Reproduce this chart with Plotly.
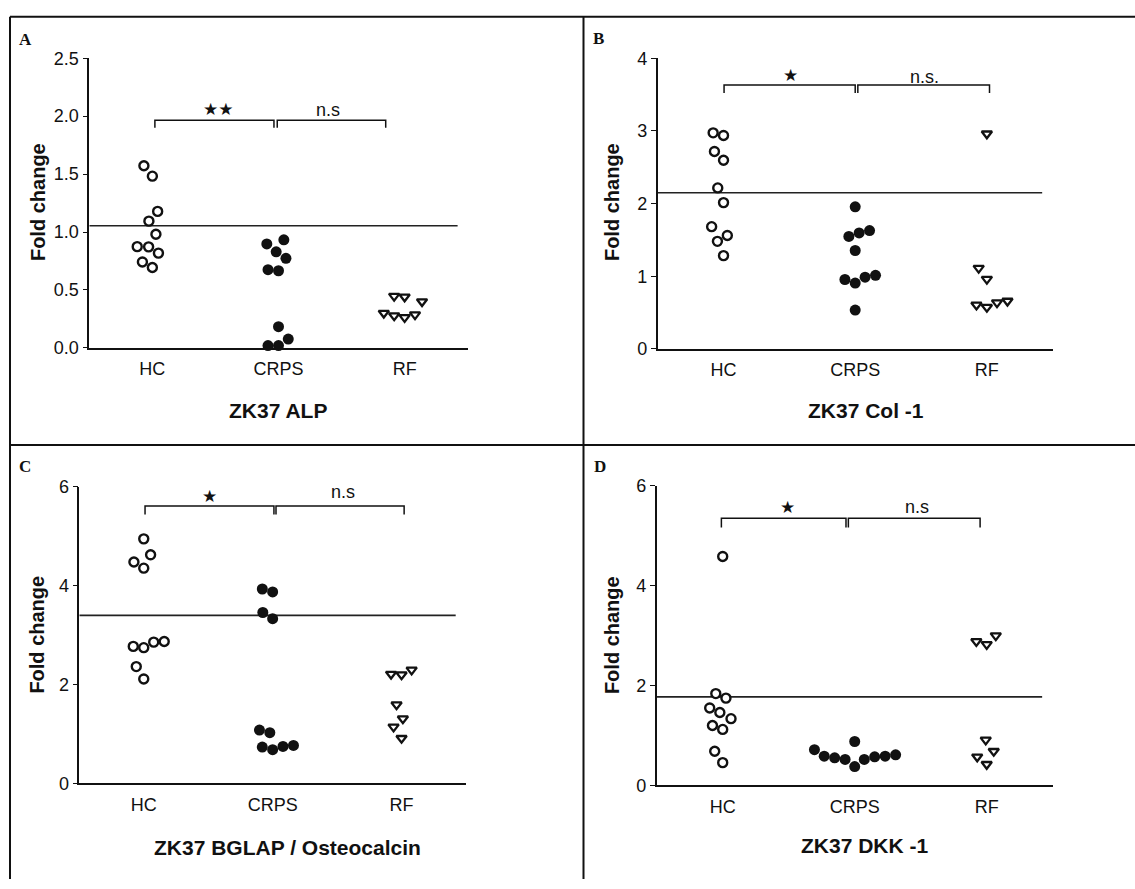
import math
import plotly.graph_objects as go

W, H = 1135, 889

# ---------------- data ----------------
categories = ["HC", "CRPS", "RF"]

alp_hc = [1.572, 1.482, 1.178, 1.094, 0.981, 0.874, 0.872, 0.818, 0.742, 0.694]
alp_crps = [0.933, 0.897, 0.829, 0.773, 0.675, 0.666, 0.183, 0.076, 0.020, 0.020]
alp_rf = [0.447, 0.441, 0.400, 0.301, 0.287, 0.278, 0.264]
alp_line = 1.054

col1_hc = [2.973, 2.937, 2.717, 2.596, 2.215, 2.013, 1.682, 1.561, 1.480, 1.283]
col1_crps = [1.955, 1.628, 1.596, 1.547, 1.354, 1.013, 0.987, 0.955, 0.906, 0.534]
col1_rf = [2.960, 1.112, 0.960, 0.659, 0.637, 0.605, 0.574]
col1_line = 2.148

bglap_hc = [4.945, 4.622, 4.477, 4.352, 2.868, 2.855, 2.769, 2.743, 2.360, 2.110]
bglap_crps = [3.930, 3.870, 3.455, 3.330, 1.075, 1.022, 0.765, 0.745, 0.732, 0.679]
bglap_rf = [2.294, 2.209, 2.196, 1.589, 1.305, 1.141, 0.910]
bglap_line = 3.396

dkk1_hc = [4.585, 1.839, 1.748, 1.552, 1.461, 1.337, 1.200, 1.122, 0.685, 0.457]
dkk1_crps = [0.880, 0.717, 0.613, 0.587, 0.587, 0.574, 0.554, 0.522, 0.522, 0.378]
dkk1_rf = [3.000, 2.883, 2.824, 0.913, 0.685, 0.574, 0.424]
dkk1_line = 1.774

panel_letters = ["A", "B", "C", "D"]
panel_titles = ["ZK37 ALP", "ZK37 Col -1", "ZK37 BGLAP / Osteocalcin", "ZK37 DKK -1"]
y_max = [2.5, 4, 6, 6]
y_dtick = [0.5, 1, 2, 2]
y_format = [".1f", "d", "d", "d"]
sig_left = ["\u2605\u2605", "\u2605", "\u2605", "\u2605"]
sig_right = ["n.s", "n.s.", "n.s", "n.s"]

# ---------------- layout geometry (pixels) ----------------
boxes = [
    (89.3, 467.7, 49.3, 345.7),
    (657.7, 1052.7, 49.3, 346.7),
    (79.3, 466.0, 487.7, 791.0),
    (656.7, 1052.7, 486.7, 793.3),
]
brackets = [
    dict(xs=(0.02, 0.964, 0.99, 1.85), yt=1.965, yl=1.90, star=(0.52, 2.058), ns=(1.392, 2.05)),
    dict(xs=(0.004, 1.0, 1.02, 2.02), yt=3.632, yl=3.52, star=(0.505, 3.767), ns=(1.53, 3.74)),
    dict(xs=(0.01, 1.01, 1.026, 2.02), yt=5.611, yl=5.44, star=(0.509, 5.82), ns=(1.548, 5.89)),
    dict(xs=(-0.01, 0.934, 0.952, 1.95), yt=5.348, yl=5.165, star=(0.49, 5.576), ns=(1.47, 5.58)),
]
letter_pos = [(25, 30.5), (598.5, 29.5), (25, 467.5), (599.5, 466.5)]
title_pos = [(278, 410), (866, 410), (287, 857), (865, 855)]
ylab_pos = [(37.5, 197), (611.5, 197), (37, 639), (611.5, 640)]

groups = [
    (alp_hc, alp_crps, alp_rf, alp_line),
    (col1_hc, col1_crps, col1_rf, col1_line),
    (bglap_hc, bglap_crps, bglap_rf, bglap_line),
    (dkk1_hc, dkk1_crps, dkk1_rf, dkk1_line),
]

FONT = "Liberation Sans, Arial, sans-serif"


def px(x):
    return x / W


def py(y):
    return 1 - y / H


def swarm(vals, ppu_x, ppu_y, dx0=10.5, dy0=18.0):
    """Greedy beeswarm with an elliptical exclusion zone; returns x offsets (category units)."""
    n = len(vals)
    order = sorted(range(n), key=lambda i: vals[i])
    placed = []
    res = [0.0] * n
    for i in order:
        y = vals[i] * ppu_y
        iv = []
        for (qx, qy) in placed:
            dy = abs(y - qy)
            if dy < dy0:
                w = dx0 * math.sqrt(1 - (dy / dy0) ** 2)
                iv.append((qx - w, qx + w))
        cands = [0.0] + [a for a, b in iv] + [b for a, b in iv]
        ok = [c for c in cands if all(not (a + 1e-6 < c < b - 1e-6) for a, b in iv)]
        best = min(ok, key=lambda c: (round(abs(c), 6), c))
        placed.append((best, y))
        res[i] = best / ppu_x
    return res


fig = go.Figure()
layout = dict(
    width=W, height=H, autosize=False,
    margin=dict(l=0, r=0, t=0, b=0),
    paper_bgcolor="white", plot_bgcolor="white",
    showlegend=False,
    shapes=[], annotations=[],
)

for k in range(4):
    x0, x1, yt, yb = boxes[k]
    hc, crps, rf, mline = groups[k]
    sfx = "" if k == 0 else str(k + 1)
    xa, ya = "x" + sfx, "y" + sfx
    ppu_x = (x1 - x0) / 3.0
    ppu_y = (yb - yt) / y_max[k]

    layout["xaxis" + sfx] = dict(
        domain=[px(x0), px(x1)], anchor=ya, range=[-0.5, 2.5],
        tickmode="array", tickvals=[0, 1, 2], ticktext=categories,
        showline=True, linecolor="#111", linewidth=1.6, ticks="",
        ticklabelstandoff=4,
        showgrid=False, zeroline=False, fixedrange=True,
        tickfont=dict(family=FONT, size=18, color="#111"),
    )
    layout["yaxis" + sfx] = dict(
        domain=[py(yb), py(yt)], anchor=xa, range=[0, y_max[k]],
        dtick=y_dtick[k], tick0=0, tickformat=y_format[k],
        showline=True, linecolor="#111", linewidth=1.6,
        ticks="outside", ticklen=5, tickwidth=1.3, tickcolor="#111",
        showgrid=False, zeroline=False, fixedrange=True,
        tickfont=dict(family=FONT, size=18, color="#111"),
    )

    # reference line
    fig.add_trace(go.Scatter(
        x=[-0.5, 2.42], y=[mline, mline], mode="lines",
        line=dict(color="#222", width=1.6), xaxis=xa, yaxis=ya,
        hoverinfo="skip"))

    # brackets
    b = brackets[k]
    xl, xm1, xm2, xr = b["xs"]
    fig.add_trace(go.Scatter(
        x=[xl, xl, xm1, xm1, None, xm2, xm2, xr, xr],
        y=[b["yl"], b["yt"], b["yt"], b["yl"], None, b["yl"], b["yt"], b["yt"], b["yl"]],
        mode="lines", line=dict(color="#111", width=1.5), xaxis=xa, yaxis=ya,
        hoverinfo="skip", cliponaxis=False))
    layout["annotations"].append(dict(
        x=b["star"][0], y=b["star"][1], xref=xa, yref=ya, text=sig_left[k],
        showarrow=False, font=dict(family="DejaVu Sans", size=17, color="#111"),
        xanchor="center", yanchor="middle"))
    layout["annotations"].append(dict(
        x=b["ns"][0], y=b["ns"][1], xref=xa, yref=ya, text=sig_right[k],
        showarrow=False, font=dict(family=FONT, size=18, color="#111"),
        xanchor="center", yanchor="middle"))

    # points
    specs = [
        (hc, 0, dict(symbol="circle", size=9, color="white", line=dict(color="#111", width=2.4))),
        (crps, 1, dict(symbol="circle", size=11, color="#111", line=dict(width=0))),
        (rf, 2, dict(symbol="triangle-down", size=9, color="white", line=dict(color="#111", width=2.3))),
    ]
    for vals, ci, mk in specs:
        offs = swarm(vals, ppu_x, ppu_y)
        fig.add_trace(go.Scatter(
            x=[ci + o for o in offs], y=vals, mode="markers", marker=mk,
            xaxis=xa, yaxis=ya, cliponaxis=False, hoverinfo="y"))

    # texts
    lx, ly = letter_pos[k]
    layout["annotations"].append(dict(
        x=px(lx), y=py(ly), xref="paper", yref="paper", text="<b>%s</b>" % panel_letters[k],
        showarrow=False, font=dict(family="Liberation Serif, Times New Roman, serif", size=17, color="#111"),
        xanchor="center", yanchor="middle"))
    tx, ty = title_pos[k]
    layout["annotations"].append(dict(
        x=px(tx), y=py(ty), xref="paper", yref="paper", text="<b>%s</b>" % panel_titles[k],
        showarrow=False, font=dict(family=FONT, size=21, color="#111"),
        xanchor="center", yanchor="middle"))
    fx, fy = ylab_pos[k]
    layout["annotations"].append(dict(
        x=px(fx), y=py(fy), xref="paper", yref="paper", text="<b>Fold change</b>",
        showarrow=False, textangle=-90, font=dict(family=FONT, size=20, color="#111"),
        xanchor="center", yanchor="middle"))

# panel frame lines
frame = [
    (10, 7, 10, H),
    (10, 7, W, 7),
    (583.5, 7, 583.5, H),
    (10, 445, W, 445),
]
for (ax0, ay0, ax1, ay1) in frame:
    layout["shapes"].append(dict(
        type="line", xref="paper", yref="paper",
        x0=px(ax0), y0=py(ay0), x1=px(ax1), y1=py(ay1),
        line=dict(color="#111", width=2)))

fig.update_layout(**layout)
fig.write_html("out.html", post_script="document.body.style.margin='0';",
               config={"displayModeBar": False})
